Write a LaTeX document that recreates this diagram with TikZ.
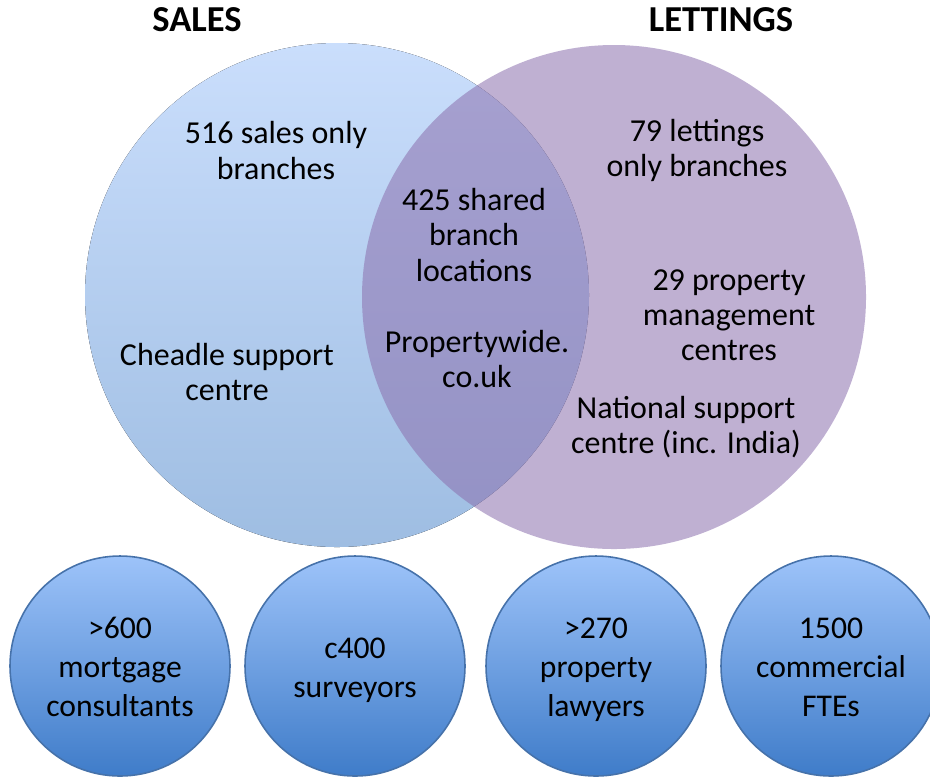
\documentclass[tikz,border=0pt]{standalone}
\usepackage{fontspec}
\setmainfont{Carlito}
\usepackage{tkz-euclide}
\definecolor{salestop}{RGB}{202,222,252}
\definecolor{salesbottom}{RGB}{158,189,226}
\definecolor{lettings}{RGB}{139,111,173}
\definecolor{teamtop}{RGB}{157,195,249}
\definecolor{teambottom}{RGB}{63,124,201}
\definecolor{teamline}{RGB}{70,114,170}
\newcommand\teamstrut{\rule{0pt}{10pt}}

\begin{document}
\begin{tikzpicture}[
	head text/.style={font=\fontsize{10.4}{12}\selectfont\bfseries},
	venn text/.style={font=\fontsize{9.1}{9.96}\selectfont, align=center},
	team/.style={circle, draw=teamline, line width=0.45pt, top color=teamtop, bottom color=teambottom,
		minimum size=2.2cm, inner sep=0pt, align=center, font=\fontsize{9}{11.1}\selectfont}]
	\useasboundingbox (0,0) rectangle (9.30,7.78);
	\tkzDefPoint(3.37,4.83){s}
	\tkzDefPoint(6.14,4.81){l}
	\tkzDefPoint(1.20,1.12){m}
	\tkzDefPoint(3.55,1.12){v}
	\tkzDefPoint(5.96,1.12){p}
	\tkzDefPoint(8.31,1.12){c}
	% the two sets
	\fill[top color=salestop, bottom color=salesbottom] (s) circle (2.52);
	\fill[lettings, opacity=0.55] (l) circle (2.52);
	\node[head text] (sales) at (1.97,7.58) {SALES};
	\node[head text] (lets) at (7.21,7.58) {LETTINGS};
	\node[venn text] (salesonly) at (2.76,6.275) {516 sales only\\branches};
	\node[venn text] (cheadle) at (2.27,4.06) {Cheadle support\\centre};
	\node[venn text] (shared) at (4.74,5.43) {425 shared\\branch\\locations};
	\node[venn text] (web) at (4.77,4.185) {Propertywide.\\co.uk};
	\node[venn text] (letsonly) at (6.97,6.275) {79 lettings\\only branches};
	\node[venn text] (pm) at (7.29,4.63) {29 property\\management\\centres};
	\node[venn text] (national) at (6.86,3.51) {National support\\centre (inc. India)};
	% teams underneath, struts keep the lines level
	\node[team] (mortgage) at (m) {\teamstrut>600\\mortgage\\consultants\strut};
	\node[team] (survey) at (v) {\teamstrut c400\\surveyors\strut};
	\node[team] (lawyers) at (p) {\teamstrut>270\\property\\lawyers\strut};
	\node[team] (commercial) at (c) {\teamstrut 1500\\commercial\\FTEs\strut};
\end{tikzpicture}
\end{document}
